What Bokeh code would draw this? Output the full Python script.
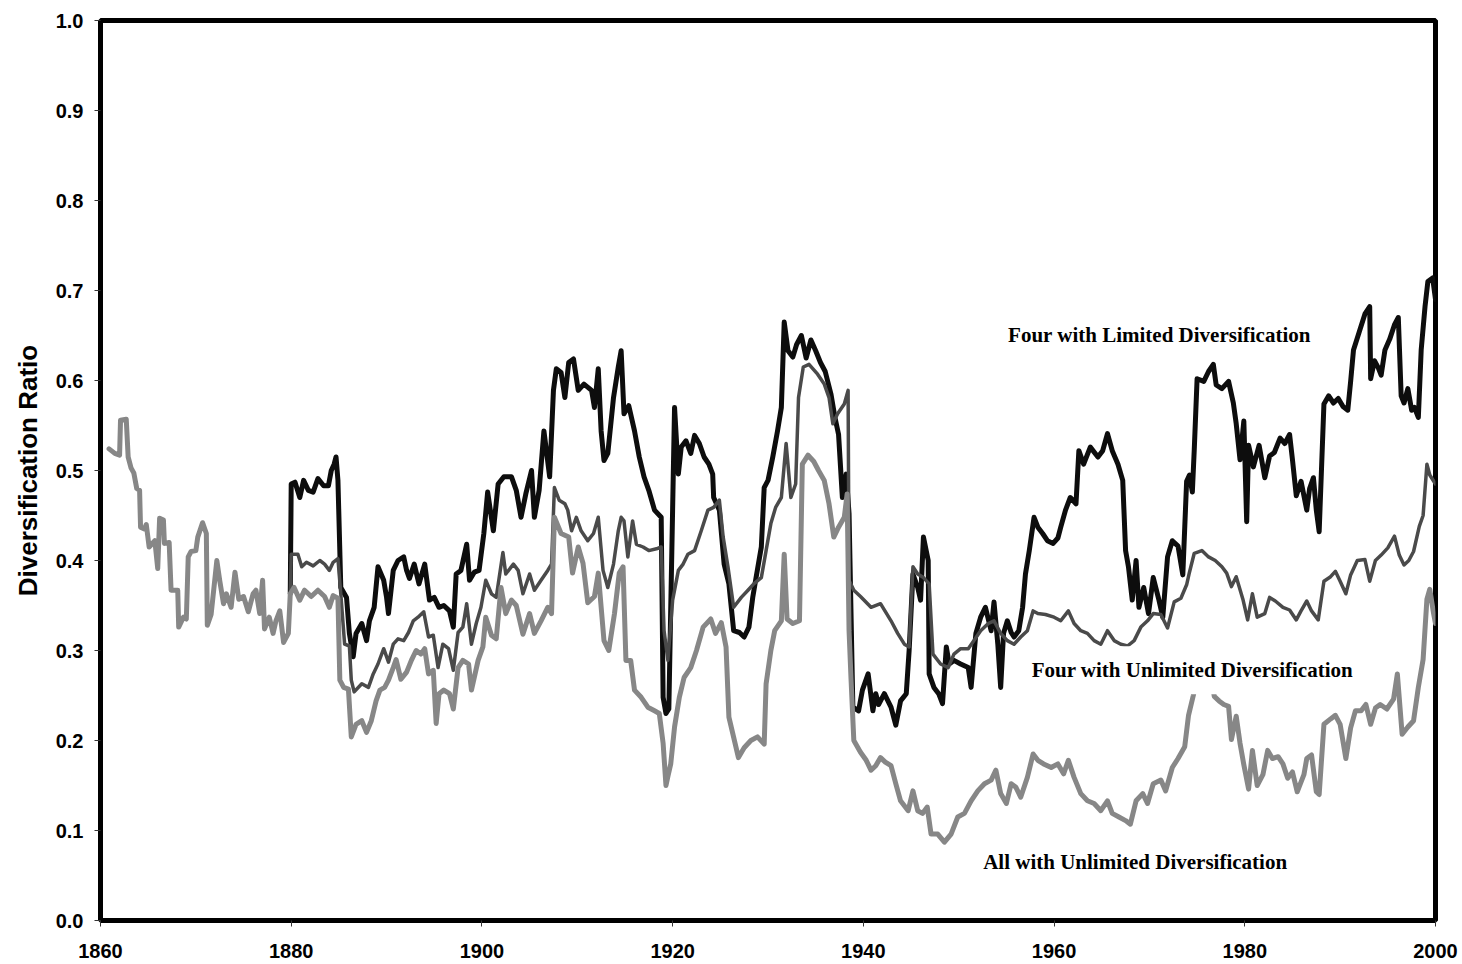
from bokeh.plotting import figure
from bokeh.models import Label, FixedTicker, PrintfTickFormatter, Range1d
from bokeh.embed import file_html
from bokeh.resources import INLINE

# ---------------- data ----------------
ALL_YEARS = [1860.9, 1861.5, 1862.0, 1862.1, 1862.7, 1862.9, 1863.2, 1863.5, 1863.8, 1864.1, 1864.2, 1864.6, 1864.8,
             1865.1, 1865.7, 1866.0, 1866.2, 1866.6, 1866.7, 1867.2, 1867.4, 1868.1, 1868.2, 1868.7, 1869.0, 1869.2,
             1869.5, 1870.0, 1870.2, 1870.7, 1871.1, 1871.2, 1871.6, 1872.2, 1872.5, 1872.9, 1873.2, 1873.7, 1874.1,
             1874.5, 1875.0, 1875.5, 1876.0, 1876.3, 1876.7, 1877.0, 1877.2, 1877.7, 1878.1, 1878.4, 1878.8, 1879.2,
             1879.7, 1879.9, 1880.3, 1880.9, 1881.4, 1882.1, 1882.8, 1883.5, 1884.0, 1884.4, 1884.9, 1885.1, 1885.5,
             1886.0, 1886.3, 1886.8, 1887.4, 1887.9, 1888.4, 1888.9, 1889.3, 1889.8, 1890.2, 1890.7, 1891.0, 1891.5,
             1892.1, 1892.6, 1893.1, 1893.6, 1894.0, 1894.4, 1894.9, 1895.2, 1895.5, 1896.0, 1896.6, 1897.0, 1897.5,
             1898.0, 1898.6, 1898.9, 1899.6, 1900.1, 1900.4, 1901.0, 1901.5, 1902.0, 1902.5, 1903.1, 1903.6, 1904.3,
             1905.0, 1905.5, 1906.2, 1906.9, 1907.3, 1907.6, 1908.3, 1909.1, 1909.5, 1910.1, 1910.6, 1911.1, 1911.8,
             1912.2, 1912.8, 1913.3, 1913.9, 1914.4, 1914.8, 1915.1, 1915.6, 1916.0, 1916.7, 1917.4, 1918.1, 1918.6,
             1919.0, 1919.3, 1919.5, 1919.8, 1920.2, 1920.7, 1921.2, 1921.9, 1922.5, 1923.2, 1924.0, 1924.5, 1925.1,
             1925.6, 1925.9, 1926.9, 1927.5, 1928.2, 1928.9, 1929.6, 1929.8, 1930.3, 1930.7, 1931.4, 1931.7, 1932.0,
             1932.6, 1933.3, 1933.6, 1934.2, 1934.8, 1935.3, 1935.9, 1936.4, 1936.9, 1937.4, 1938.0, 1938.3, 1938.5,
             1938.7, 1939.0, 1939.7, 1940.3, 1940.8, 1941.3, 1941.8, 1942.3, 1942.9, 1943.4, 1943.9, 1944.7, 1945.2,
             1945.7, 1946.2, 1946.7, 1947.1, 1947.8, 1948.5, 1949.2, 1949.9, 1950.6, 1951.3, 1952.0, 1952.7, 1953.4,
             1953.9, 1954.4, 1955.0, 1955.5, 1956.0, 1956.5, 1957.2, 1957.8, 1958.3, 1958.9, 1959.7, 1960.4, 1961.0,
             1961.5, 1962.1, 1962.8, 1963.5, 1964.2, 1964.9, 1965.6, 1966.1, 1966.8, 1967.5, 1968.0, 1968.6, 1969.3,
             1969.8, 1970.4, 1971.2, 1971.7, 1972.4, 1973.0, 1973.7, 1974.1, 1974.6, 1975.2, 1975.9, 1976.4, 1976.8,
             1977.3, 1977.8, 1978.3, 1978.6, 1979.1, 1979.5, 1979.9, 1980.4, 1980.8, 1981.3, 1981.9, 1982.4, 1982.9,
             1983.5, 1984.0, 1984.5, 1985.0, 1985.5, 1986.2, 1986.5, 1987.0, 1987.5, 1987.8, 1988.3, 1989.0, 1989.5,
             1990.0, 1990.6, 1991.1, 1991.6, 1992.2, 1992.7, 1993.2, 1993.7, 1994.2, 1994.9, 1995.6, 1996.0, 1996.5,
             1997.1, 1997.7, 1998.2, 1998.7, 1999.1, 1999.4, 1999.8, 2000.0]
ALL_VALUES = [0.524, 0.519, 0.517, 0.556, 0.557, 0.515, 0.503, 0.497, 0.480, 0.478, 0.437, 0.435, 0.440,
              0.415, 0.422, 0.391, 0.447, 0.445, 0.419, 0.420, 0.367, 0.367, 0.326, 0.337, 0.335, 0.404,
              0.410, 0.411, 0.426, 0.442, 0.430, 0.328, 0.340, 0.400, 0.378, 0.352, 0.363, 0.348, 0.387,
              0.357, 0.360, 0.343, 0.363, 0.367, 0.341, 0.378, 0.324, 0.337, 0.319, 0.333, 0.344, 0.309,
              0.319, 0.363, 0.370, 0.356, 0.367, 0.360, 0.367, 0.360, 0.348, 0.361, 0.358, 0.267, 0.259,
              0.257, 0.204, 0.218, 0.222, 0.209, 0.222, 0.244, 0.256, 0.259, 0.267, 0.281, 0.290, 0.268,
              0.276, 0.289, 0.300, 0.296, 0.302, 0.274, 0.278, 0.219, 0.252, 0.256, 0.252, 0.235, 0.281,
              0.289, 0.285, 0.256, 0.289, 0.304, 0.337, 0.317, 0.313, 0.370, 0.341, 0.356, 0.350, 0.318,
              0.341, 0.319, 0.333, 0.348, 0.341, 0.448, 0.430, 0.426, 0.386, 0.415, 0.397, 0.353, 0.360,
              0.386, 0.311, 0.300, 0.341, 0.386, 0.393, 0.289, 0.289, 0.256, 0.248, 0.237, 0.233, 0.230,
              0.197, 0.150, 0.160, 0.174, 0.215, 0.248, 0.270, 0.281, 0.300, 0.326, 0.335, 0.319, 0.331,
              0.304, 0.226, 0.181, 0.192, 0.200, 0.204, 0.196, 0.263, 0.300, 0.322, 0.333, 0.407, 0.335,
              0.330, 0.333, 0.507, 0.517, 0.510, 0.500, 0.489, 0.463, 0.426, 0.437, 0.448, 0.474, 0.322,
              0.270, 0.200, 0.187, 0.178, 0.167, 0.172, 0.181, 0.176, 0.172, 0.152, 0.133, 0.122, 0.144,
              0.122, 0.119, 0.126, 0.096, 0.096, 0.087, 0.096, 0.115, 0.119, 0.133, 0.144, 0.152, 0.156,
              0.167, 0.141, 0.130, 0.152, 0.148, 0.137, 0.159, 0.185, 0.178, 0.174, 0.170, 0.174, 0.163,
              0.178, 0.159, 0.141, 0.133, 0.130, 0.122, 0.133, 0.119, 0.115, 0.111, 0.107, 0.133, 0.141,
              0.130, 0.152, 0.156, 0.144, 0.170, 0.180, 0.193, 0.228, 0.250, 0.280, 0.300, 0.275, 0.249,
              0.244, 0.240, 0.238, 0.201, 0.227, 0.197, 0.173, 0.146, 0.189, 0.150, 0.162, 0.189, 0.180,
              0.182, 0.174, 0.158, 0.165, 0.143, 0.162, 0.180, 0.184, 0.143, 0.140, 0.218, 0.224, 0.228,
              0.218, 0.180, 0.214, 0.233, 0.233, 0.240, 0.218, 0.236, 0.240, 0.235, 0.246, 0.274, 0.207,
              0.215, 0.222, 0.259, 0.290, 0.357, 0.368, 0.341, 0.330]

UNL_YEARS = [1879.9, 1880.0, 1880.7, 1881.1, 1881.6, 1882.3, 1883.0, 1883.5, 1884.0, 1884.4, 1884.9, 1885.2, 1885.6,
             1886.1, 1886.3, 1886.6, 1887.4, 1888.1, 1888.6, 1889.1, 1889.7, 1890.2, 1890.7, 1891.2, 1891.8, 1892.3,
             1892.8, 1893.3, 1893.9, 1894.4, 1894.9, 1895.4, 1895.9, 1896.5, 1897.0, 1897.5, 1898.0, 1898.4, 1898.9,
             1899.4, 1899.9, 1900.4, 1901.0, 1901.5, 1902.2, 1902.5, 1903.3, 1903.8, 1904.3, 1905.0, 1905.5, 1906.2,
             1906.9, 1907.3, 1907.6, 1908.1, 1908.7, 1909.0, 1909.4, 1909.9, 1910.4, 1911.1, 1911.7, 1912.2, 1912.7,
             1913.2, 1913.8, 1914.3, 1914.6, 1914.9, 1915.3, 1915.8, 1916.2, 1916.9, 1917.5, 1918.3, 1918.8, 1919.1,
             1919.5, 1920.0, 1920.6, 1921.1, 1921.6, 1922.3, 1923.0, 1923.7, 1924.3, 1924.9, 1925.3, 1925.8, 1926.4,
             1927.2, 1927.9, 1928.5, 1929.3, 1929.8, 1930.3, 1930.8, 1931.4, 1931.9, 1932.4, 1932.9, 1933.2, 1933.7,
             1934.3, 1935.2, 1935.9, 1936.4, 1936.8, 1937.3, 1938.0, 1938.4, 1938.5, 1939.0, 1939.7, 1940.8, 1941.8,
             1942.9, 1943.6, 1944.3, 1944.8, 1945.2, 1945.7, 1946.3, 1946.9, 1947.3, 1948.1, 1948.9, 1949.5, 1950.2,
             1951.0, 1951.6, 1952.3, 1953.1, 1953.7, 1954.4, 1955.1, 1955.8, 1956.5, 1957.2, 1957.8, 1958.3, 1959.1,
             1960.0, 1960.7, 1961.5, 1962.1, 1962.8, 1963.5, 1964.2, 1964.9, 1965.6, 1966.3, 1967.0, 1967.7, 1968.4,
             1969.1, 1969.8, 1970.4, 1971.2, 1971.9, 1972.6, 1973.3, 1973.9, 1974.2, 1974.7, 1975.5, 1976.2, 1976.9,
             1977.6, 1978.1, 1978.6, 1979.1, 1979.8, 1980.3, 1980.8, 1981.3, 1982.1, 1982.6, 1983.2, 1984.0, 1984.7,
             1985.4, 1985.9, 1986.5, 1987.0, 1987.7, 1988.3, 1989.0, 1989.5, 1990.0, 1990.6, 1991.1, 1991.8, 1992.6,
             1993.1, 1993.7, 1994.3, 1995.0, 1995.7, 1996.2, 1996.7, 1997.2, 1997.7, 1998.3, 1998.7, 1999.1, 1999.4,
             2000.0]
UNL_VALUES = [0.363, 0.407, 0.407, 0.393, 0.398, 0.394, 0.400, 0.396, 0.389, 0.398, 0.402, 0.363, 0.307,
              0.305, 0.267, 0.254, 0.263, 0.259, 0.274, 0.285, 0.302, 0.287, 0.307, 0.313, 0.311, 0.320,
              0.333, 0.337, 0.343, 0.315, 0.317, 0.281, 0.307, 0.302, 0.278, 0.320, 0.326, 0.352, 0.307,
              0.330, 0.348, 0.378, 0.363, 0.359, 0.409, 0.385, 0.396, 0.389, 0.363, 0.385, 0.367, 0.378,
              0.389, 0.396, 0.481, 0.467, 0.463, 0.456, 0.433, 0.448, 0.433, 0.422, 0.430, 0.448, 0.389,
              0.370, 0.396, 0.433, 0.448, 0.444, 0.404, 0.444, 0.418, 0.415, 0.411, 0.413, 0.415, 0.322,
              0.289, 0.356, 0.389, 0.396, 0.407, 0.411, 0.433, 0.456, 0.459, 0.467, 0.426, 0.393, 0.348,
              0.359, 0.367, 0.374, 0.381, 0.411, 0.441, 0.459, 0.470, 0.530, 0.470, 0.485, 0.581, 0.615,
              0.618, 0.607, 0.596, 0.581, 0.552, 0.563, 0.574, 0.589, 0.378, 0.367, 0.360, 0.348, 0.352,
              0.333, 0.319, 0.307, 0.304, 0.393, 0.385, 0.381, 0.374, 0.296, 0.285, 0.281, 0.296, 0.302,
              0.302, 0.311, 0.322, 0.330, 0.333, 0.319, 0.311, 0.307, 0.315, 0.322, 0.344, 0.341, 0.340,
              0.337, 0.333, 0.344, 0.330, 0.322, 0.319, 0.311, 0.307, 0.322, 0.311, 0.307, 0.305, 0.311,
              0.326, 0.333, 0.341, 0.340, 0.325, 0.354, 0.358, 0.373, 0.387, 0.408, 0.411, 0.404, 0.400,
              0.393, 0.386, 0.371, 0.382, 0.357, 0.334, 0.363, 0.337, 0.341, 0.359, 0.355, 0.348, 0.345,
              0.334, 0.344, 0.355, 0.344, 0.334, 0.377, 0.382, 0.388, 0.377, 0.363, 0.384, 0.400, 0.401,
              0.377, 0.400, 0.406, 0.414, 0.427, 0.406, 0.395, 0.400, 0.410, 0.438, 0.450, 0.507, 0.495,
              0.485]

LIM_YEARS = [1879.9, 1880.0, 1880.4, 1880.9, 1881.3, 1881.8, 1882.3, 1882.8, 1883.4, 1883.9, 1884.2, 1884.5, 1884.7,
             1884.9, 1885.2, 1885.8, 1886.1, 1886.5, 1886.8, 1887.4, 1887.9, 1888.2, 1888.7, 1889.1, 1889.7, 1890.0,
             1890.2, 1890.7, 1891.2, 1891.8, 1892.1, 1892.4, 1892.9, 1893.4, 1894.0, 1894.5, 1895.0, 1895.5, 1896.0,
             1896.6, 1897.0, 1897.3, 1897.8, 1898.4, 1898.7, 1899.2, 1899.7, 1900.2, 1900.6, 1901.2, 1901.7, 1902.3,
             1903.1, 1903.6, 1904.1, 1904.6, 1905.2, 1905.5, 1906.0, 1906.5, 1907.1, 1907.5, 1907.8, 1908.3, 1908.7,
             1909.1, 1909.6, 1910.1, 1910.7, 1911.5, 1911.8, 1912.2, 1912.5, 1912.8, 1913.2, 1913.8, 1914.3, 1914.6,
             1914.9, 1915.4, 1916.0, 1916.5, 1917.0, 1917.5, 1918.1, 1918.8, 1919.0, 1919.3, 1919.6, 1920.2, 1920.6,
             1920.9, 1921.4, 1921.9, 1922.3, 1922.8, 1923.3, 1923.8, 1924.2, 1924.3, 1924.9, 1925.4, 1925.9, 1926.4,
             1927.0, 1927.5, 1928.0, 1928.4, 1928.7, 1929.3, 1929.6, 1930.0, 1930.5, 1931.0, 1931.4, 1931.7, 1932.1,
             1932.6, 1933.0, 1933.5, 1934.0, 1934.5, 1935.0, 1935.5, 1936.0, 1936.6, 1937.0, 1937.4, 1937.8, 1938.2,
             1938.5, 1938.9, 1939.5, 1939.9, 1940.5, 1941.0, 1941.3, 1941.6, 1942.2, 1942.9, 1943.4, 1943.9, 1944.5,
             1944.8, 1945.2, 1945.7, 1946.0, 1946.3, 1946.8, 1946.9, 1947.4, 1947.9, 1948.3, 1948.7, 1949.0, 1949.5,
             1950.2, 1951.0, 1951.3, 1951.8, 1952.3, 1952.8, 1953.4, 1953.7, 1954.1, 1954.4, 1954.7, 1955.1, 1955.5,
             1955.8, 1956.3, 1956.7, 1957.0, 1957.4, 1957.9, 1958.3, 1958.8, 1959.3, 1959.9, 1960.4, 1960.7, 1961.2,
             1961.7, 1962.3, 1962.6, 1963.1, 1963.8, 1964.6, 1965.1, 1965.6, 1966.1, 1966.7, 1967.2, 1967.5, 1967.8,
             1968.2, 1968.6, 1968.9, 1969.4, 1969.9, 1970.4, 1971.0, 1971.4, 1971.9, 1972.4, 1973.0, 1973.5, 1973.9,
             1974.2, 1974.5, 1974.7, 1975.0, 1975.7, 1976.2, 1976.7, 1977.0, 1977.6, 1978.3, 1978.8, 1979.1, 1979.5,
             1979.9, 1980.2, 1980.4, 1980.9, 1981.5, 1982.1, 1982.6, 1983.1, 1983.7, 1984.2, 1984.7, 1985.0, 1985.4,
             1985.9, 1986.5, 1986.8, 1987.2, 1987.5, 1987.8, 1988.3, 1988.8, 1989.3, 1989.8, 1990.3, 1990.8, 1991.1,
             1991.4, 1992.0, 1992.6, 1993.1, 1993.2, 1993.6, 1994.0, 1994.3, 1994.7, 1995.2, 1995.7, 1996.1, 1996.4,
             1996.7, 1997.1, 1997.5, 1997.8, 1998.2, 1998.5, 1998.9, 1999.2, 1999.7, 2000.0]
LIM_VALUES = [0.363, 0.485, 0.487, 0.470, 0.489, 0.478, 0.476, 0.491, 0.483, 0.483, 0.500, 0.507, 0.515,
              0.489, 0.370, 0.359, 0.319, 0.293, 0.319, 0.330, 0.311, 0.333, 0.348, 0.393, 0.378, 0.359,
              0.341, 0.389, 0.400, 0.404, 0.389, 0.380, 0.396, 0.374, 0.396, 0.356, 0.359, 0.348, 0.350,
              0.344, 0.326, 0.385, 0.389, 0.418, 0.378, 0.387, 0.389, 0.430, 0.476, 0.433, 0.485, 0.493,
              0.493, 0.478, 0.448, 0.474, 0.500, 0.448, 0.478, 0.544, 0.493, 0.589, 0.613, 0.609, 0.581,
              0.620, 0.624, 0.589, 0.596, 0.589, 0.570, 0.613, 0.544, 0.511, 0.519, 0.581, 0.615, 0.633,
              0.563, 0.572, 0.544, 0.515, 0.493, 0.478, 0.456, 0.448, 0.248, 0.230, 0.235, 0.570, 0.496,
              0.526, 0.533, 0.519, 0.539, 0.530, 0.515, 0.507, 0.496, 0.470, 0.456, 0.396, 0.374, 0.322,
              0.320, 0.315, 0.326, 0.359, 0.378, 0.415, 0.481, 0.489, 0.515, 0.544, 0.570, 0.665, 0.633,
              0.626, 0.640, 0.650, 0.625, 0.645, 0.633, 0.620, 0.610, 0.585, 0.560, 0.540, 0.470, 0.496,
              0.452, 0.237, 0.233, 0.256, 0.274, 0.233, 0.252, 0.240, 0.252, 0.237, 0.217, 0.244, 0.252,
              0.300, 0.385, 0.370, 0.356, 0.426, 0.400, 0.274, 0.259, 0.252, 0.241, 0.304, 0.285, 0.289,
              0.285, 0.281, 0.259, 0.319, 0.337, 0.348, 0.322, 0.354, 0.307, 0.259, 0.319, 0.333, 0.320,
              0.315, 0.322, 0.348, 0.385, 0.411, 0.448, 0.437, 0.430, 0.422, 0.419, 0.425, 0.437, 0.456,
              0.470, 0.463, 0.522, 0.507, 0.526, 0.515, 0.522, 0.541, 0.522, 0.507, 0.489, 0.411, 0.393,
              0.356, 0.400, 0.348, 0.370, 0.341, 0.381, 0.356, 0.337, 0.404, 0.422, 0.416, 0.384, 0.488,
              0.495, 0.476, 0.523, 0.602, 0.599, 0.610, 0.618, 0.595, 0.591, 0.599, 0.575, 0.552, 0.512,
              0.555, 0.443, 0.528, 0.504, 0.528, 0.492, 0.516, 0.520, 0.536, 0.530, 0.540, 0.512, 0.472,
              0.488, 0.456, 0.480, 0.492, 0.456, 0.432, 0.574, 0.583, 0.575, 0.580, 0.571, 0.567, 0.599,
              0.634, 0.654, 0.674, 0.682, 0.602, 0.622, 0.614, 0.606, 0.634, 0.646, 0.662, 0.670, 0.583,
              0.575, 0.591, 0.567, 0.570, 0.559, 0.634, 0.682, 0.710, 0.714, 0.690]

X_TICKS = [1860, 1880, 1900, 1920, 1940, 1960, 1980, 2000]
Y_TICKS = [0.0, 0.1, 0.2, 0.3, 0.4, 0.5, 0.6, 0.7, 0.8, 0.9, 1.0]
Y_TITLE = "Diversification Ratio"
LABEL_LIM = "Four with Limited Diversification"
LABEL_UNL = "Four with Unlimited Diversification"
LABEL_ALL = "All with Unlimited Diversification"

# ---------------- figure ----------------
p = figure(width=1462, height=964,
           x_range=Range1d(1860, 2000), y_range=Range1d(0, 1),
           output_backend="svg", toolbar_location=None,
           min_border_left=100, min_border_right=27, min_border_top=20, min_border_bottom=44,
           background_fill_color="white", border_fill_color="white")

p.xgrid.visible = False
p.ygrid.visible = False
p.outline_line_color = "black"
p.outline_line_width = 5

for ax in (p.xaxis[0], p.yaxis[0]):
    ax.axis_line_color = None
    ax.major_tick_in = 0
    ax.major_tick_out = 6
    ax.major_tick_line_color = "#333333"
    ax.major_tick_line_width = 1
    ax.minor_tick_line_color = None
    ax.major_label_text_font = "Liberation Sans"
    ax.major_label_text_font_style = "bold"
    ax.major_label_text_font_size = "20px"
    ax.major_label_text_color = "black"

p.xaxis.ticker = FixedTicker(ticks=X_TICKS)
p.xaxis.major_label_standoff = 17
p.yaxis.ticker = FixedTicker(ticks=Y_TICKS)
p.yaxis.formatter = PrintfTickFormatter(format="%.1f")
p.yaxis.major_label_standoff = 11
p.yaxis.axis_label = Y_TITLE
p.yaxis.axis_label_text_font = "Liberation Sans"
p.yaxis.axis_label_text_font_style = "bold"
p.yaxis.axis_label_text_font_size = "26px"
p.yaxis.axis_label_text_color = "black"
p.yaxis.axis_label_standoff = 10

p.line(LIM_YEARS, LIM_VALUES, line_color="#0d0d0d", line_width=5, line_join="round", line_cap="round")
p.line(UNL_YEARS, UNL_VALUES, line_color="#4a4a4a", line_width=3.5, line_join="round", line_cap="round")
p.line(ALL_YEARS, ALL_VALUES, line_color="#878787", line_width=5, line_join="round", line_cap="round")

for (lx, ly, txt) in [(1971.05, 0.651, LABEL_LIM), (1974.5, 0.278, LABEL_UNL), (1968.5, 0.0645, LABEL_ALL)]:
    p.add_layout(Label(x=lx, y=ly, text=txt, text_align="center", text_baseline="middle",
                       text_font="Liberation Serif", text_font_style="bold", text_font_size="21px",
                       text_color="black", background_fill_color="white", padding=12))

open("out.html", "w").write(file_html(p, INLINE))
